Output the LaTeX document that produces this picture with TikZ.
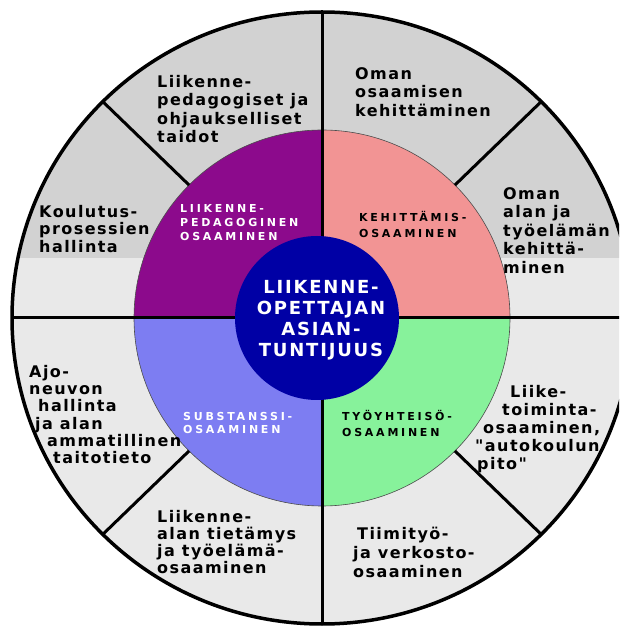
\documentclass[tikz,border=0pt]{standalone}
\usepackage{fontspec}
\setmainfont{DejaVu Sans}
\newfontfamily\outerfont[LetterSpace=9]{DejaVu Sans}
\newfontfamily\ringfont[LetterSpace=25]{DejaVu Sans}
\newfontfamily\hubfont[LetterSpace=10]{DejaVu Sans}
\usetikzlibrary{calc}
\definecolor{ringgray}{RGB}{210, 210, 210}
\definecolor{ringlight}{RGB}{233, 233, 233}
\definecolor{pedpurple}{RGB}{140, 10, 140}
\definecolor{kehpink}{RGB}{242, 148, 148}
\definecolor{subviolet}{RGB}{125, 125, 242}
\definecolor{tyogreen}{RGB}{135, 242, 155}
\definecolor{hubblue}{RGB}{0, 0, 165}
\tikzset{
  outertxt/.style = {
    anchor=north west, inner sep=0pt, align=left,
    font=\outerfont\bfseries\fontsize{16}{#1}\selectfont
  },
  outertxt/.default = 18.5,
  ringtxt/.style = {
    anchor=north west, inner sep=0pt, align=left, text=#1,
    font=\ringfont\bfseries\fontsize{11}{14}\selectfont
  },
  ringtxt/.default = white,
  hubtxt/.style = {
    anchor=north, inner sep=0pt, align=center, text=white,
    font=\hubfont\bfseries\fontsize{18}{21}\selectfont
  },
  divider/.style = {draw=black, line width=3pt},
}

\begin{document}
\begin{tikzpicture}[x=1pt, y=1pt]

  \useasboundingbox (0,0) rectangle (619,627);
  \clip (0,0) rectangle (619,627);
  \coordinate (c) at (322,309);

  % outer ring
  \begin{scope}
    \clip (c) ellipse [x radius=310pt, y radius=306pt];
    \fill[ringlight] (0,0) rectangle (640,627);
    \fill[ringgray] (0,369) rectangle (640,627);
  \end{scope}

  % middle ring
  \fill[kehpink]   (c) -- ++(0:188pt)   arc[start angle=0,   end angle=90,  radius=188pt] -- cycle;
  \fill[pedpurple] (c) -- ++(90:188pt)  arc[start angle=90,  end angle=180, radius=188pt] -- cycle;
  \fill[subviolet] (c) -- ++(180:188pt) arc[start angle=180, end angle=270, radius=188pt] -- cycle;
  \fill[tyogreen]  (c) -- ++(270:188pt) arc[start angle=270, end angle=360, radius=188pt] -- cycle;
  \draw[black!70, line width=0.6pt] (c) circle[radius=188pt];

  % dividers
  \draw[divider] ($(c)+(180:310pt)$) -- ($(c)+(0:310pt)$);
  \draw[divider] ($(c)+(90:306pt)$) -- ($(c)+(270:306pt)$);
  \draw[divider] ($(c)+(45:188pt)$)  -- ($(c)+(45:310pt and 306pt)$);
  \draw[divider] ($(c)+(135:188pt)$) -- ($(c)+(135:310pt and 306pt)$);
  \draw[divider] ($(c)+(225:188pt)$) -- ($(c)+(225:310pt and 306pt)$);
  \draw[divider] ($(c)+(315:188pt)$) -- ($(c)+(315:310pt and 306pt)$);
  \draw[line width=3.5pt] (c) ellipse [x radius=310pt, y radius=306pt];

  % hub
  \fill[hubblue] (317,309) circle[radius=82pt];
  \node[hubtxt] (hub) at (321,346.5)
    {LIIKENNE-\\OPETTAJAN\\ASIAN-\\TUNTIJUUS};

  % ring labels
  \node[ringtxt] (ped) at (180,423) {LIIKENNE-\\PEDAGOGINEN\\OSAAMINEN};
  \node[ringtxt=black, font=\ringfont\bfseries\fontsize{11}{15.7}\selectfont]
    (keh) at (359,416) {KEHITTÄMIS-\\OSAAMINEN};
  \node[ringtxt, font=\ringfont\bfseries\fontsize{11}{13.3}\selectfont]
    (sub) at (183,215) {SUBSTANSSI-\\OSAAMINEN};
  \node[ringtxt=black, font=\ringfont\bfseries\fontsize{11}{16}\selectfont]
    (tyo) at (342,217) {TYÖYHTEISÖ-\\OSAAMINEN};

  % outer ring texts
  \node[outertxt] (pedtaid) at (157,552)
    {Liikenne-\\pedagogiset ja\\ohjaukselliset\\taidot};
  \node[outertxt] (omaosa) at (355,560)
    {Oman\\osaamisen\\kehittäminen};
  \node[outertxt] (omaala) at (503,440)
    {Oman\\alan ja\\työelämän\\kehittä-\\minen};
  \node[outertxt=17.5] (koul) at (39,422)
    {Koulutus-\\prosessien\\hallinta};
  \node[outertxt=17.3] (ajo) at (29,262)
    {Ajo-\\neuvon\\\hspace*{9pt}hallinta\\\hspace*{6pt}ja alan\\
     \hspace*{18pt}ammatillinen\\\hspace*{24pt}taitotieto};
  \node[outertxt=17] (tieto) at (157,117)
    {Liikenne-\\alan tietämys\\ja työelämä-\\osaaminen};
  \node[outertxt=18] (liike) at (475,242)
    {\hspace*{35pt}Liike-\\\hspace*{27pt}toiminta-\\\hspace*{8pt}osaaminen,\\
     "autokoulun\\\hspace*{2pt}pito"};
  \node[outertxt=19] (tiimi) at (353,100)
    {\hspace*{4pt}Tiimityö-\\ja verkosto-\\osaaminen};

\end{tikzpicture}
\end{document}
